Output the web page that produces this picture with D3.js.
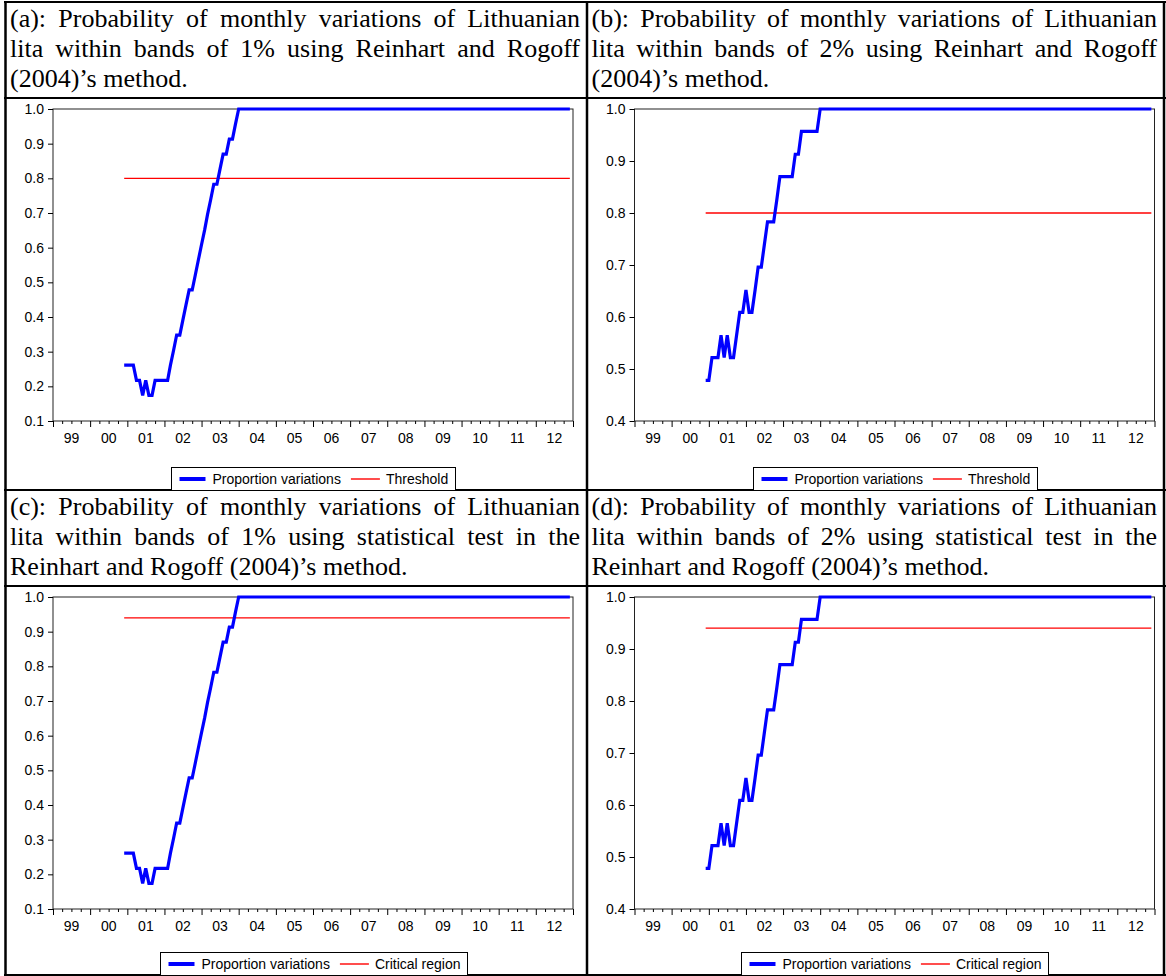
<!DOCTYPE html>
<html>
<head>
<meta charset="utf-8">
<script src="https://cdnjs.cloudflare.com/ajax/libs/d3/7.8.5/d3.min.js"></script>
<style>
  body { margin: 0; background: #fff; }
  svg { display: block; }
</style>
</head>
<body>
<svg id="chart" width="1166" height="976"></svg>
<script>
// ---- Data -------------------------------------------------------------
// Monthly observations run from 2000M12 to 2012M12 (145 months).
const firstMonth = [2000, 11];   // year, zero-based month
const lastMonth  = [2012, 11];

// Share of monthly variations of the lita inside a ±1% band
const band1Share = [
  0.261, 0.261, 0.261, 0.261, 0.217, 0.217, 0.174, 0.217, 0.174, 0.174, 0.217, 0.217,
  0.217, 0.217, 0.217, 0.261, 0.304, 0.348, 0.348, 0.391, 0.435, 0.478, 0.478, 0.522,
  0.565, 0.609, 0.652, 0.696, 0.739, 0.783, 0.783, 0.826, 0.870, 0.870, 0.913, 0.913,
  0.957, 1, 1, 1, 1, 1, 1, 1, 1, 1, 1, 1,
  1, 1, 1, 1, 1, 1, 1, 1, 1, 1, 1, 1,
  1, 1, 1, 1, 1, 1, 1, 1, 1, 1, 1, 1,
  1, 1, 1, 1, 1, 1, 1, 1, 1, 1, 1, 1,
  1, 1, 1, 1, 1, 1, 1, 1, 1, 1, 1, 1,
  1, 1, 1, 1, 1, 1, 1, 1, 1, 1, 1, 1,
  1, 1, 1, 1, 1, 1, 1, 1, 1, 1, 1, 1,
  1, 1, 1, 1, 1, 1, 1, 1, 1, 1, 1, 1,
  1, 1, 1, 1, 1, 1, 1, 1, 1, 1, 1, 1,
  1
];

// Share of monthly variations of the lita inside a ±2% band
const band2Share = [
  0.478, 0.478, 0.522, 0.522, 0.522, 0.565, 0.522, 0.565, 0.522, 0.522, 0.565, 0.609,
  0.609, 0.652, 0.609, 0.609, 0.652, 0.696, 0.696, 0.739, 0.783, 0.783, 0.783, 0.826,
  0.870, 0.870, 0.870, 0.870, 0.870, 0.913, 0.913, 0.957, 0.957, 0.957, 0.957, 0.957,
  0.957, 1, 1, 1, 1, 1, 1, 1, 1, 1, 1, 1,
  1, 1, 1, 1, 1, 1, 1, 1, 1, 1, 1, 1,
  1, 1, 1, 1, 1, 1, 1, 1, 1, 1, 1, 1,
  1, 1, 1, 1, 1, 1, 1, 1, 1, 1, 1, 1,
  1, 1, 1, 1, 1, 1, 1, 1, 1, 1, 1, 1,
  1, 1, 1, 1, 1, 1, 1, 1, 1, 1, 1, 1,
  1, 1, 1, 1, 1, 1, 1, 1, 1, 1, 1, 1,
  1, 1, 1, 1, 1, 1, 1, 1, 1, 1, 1, 1,
  1, 1, 1, 1, 1, 1, 1, 1, 1, 1, 1, 1,
  1
];

const thresholdLevel = 0.8;   // Reinhart–Rogoff 80% rule
const criticalLevel  = 0.94;  // critical region of the statistical test

const yearLabels = ["99", "00", "01", "02", "03", "04", "05", "06", "07", "08", "09", "10", "11", "12"];
const yTicksBand1 = [0.1, 0.2, 0.3, 0.4, 0.5, 0.6, 0.7, 0.8, 0.9, 1.0];
const yTicksBand2 = [0.4, 0.5, 0.6, 0.7, 0.8, 0.9, 1.0];

const titleA = ["(a): Probability of monthly variations of Lithuanian",
                "lita within bands of 1% using Reinhart and Rogoff",
                "(2004)\u2019s method."];
const titleB = ["(b): Probability of monthly variations of Lithuanian",
                "lita within bands of 2% using Reinhart and Rogoff",
                "(2004)\u2019s method."];
const titleC = ["(c): Probability of monthly variations of Lithuanian",
                "lita within bands of 1% using statistical test in the",
                "Reinhart and Rogoff (2004)\u2019s method."];
const titleD = ["(d): Probability of monthly variations of Lithuanian",
                "lita within bands of 2% using statistical test in the",
                "Reinhart and Rogoff (2004)\u2019s method."];

const seriesLabel = "Proportion variations";

// ---- Layout -----------------------------------------------------------
const svg = d3.select("#chart");
const serif = "'Liberation Serif','Times New Roman',Times,serif";
const sans  = "'Liberation Sans',Arial,Helvetica,sans-serif";

const colLeft  = [5.5, 587];
const colRight = [587, 1164];
const titleTop   = [2, 490];
const chartTop   = [98, 586];
const chartBot   = [490, 975];

const plotW = 520, plotH = 312;

const months = d3.utcMonth.range(
  new Date(Date.UTC(firstMonth[0], firstMonth[1], 1)),
  new Date(Date.UTC(lastMonth[0], lastMonth[1] + 1, 1)));

const panels = [
  { col: 0, row: 0, title: titleA, values: band1Share, yTicks: yTicksBand1, level: thresholdLevel, levelLabel: "Threshold" },
  { col: 1, row: 0, title: titleB, values: band2Share, yTicks: yTicksBand2, level: thresholdLevel, levelLabel: "Threshold" },
  { col: 0, row: 1, title: titleC, values: band1Share, yTicks: yTicksBand1, level: criticalLevel,  levelLabel: "Critical region" },
  { col: 1, row: 1, title: titleD, values: band2Share, yTicks: yTicksBand2, level: criticalLevel,  levelLabel: "Critical region" }
];

// text measuring helper
const probe = svg.append("text").attr("visibility", "hidden");
function textWidth(str, family, size) {
  probe.attr("font-family", family).attr("font-size", size).text(str);
  return probe.node().getComputedTextLength();
}

// ---- Table frame -------------------------------------------------------
const frame = svg.append("g").attr("stroke", "#000").attr("fill", "none");
[5.5, 587, 1164].forEach(xv => {
  frame.append("line").attr("x1", xv).attr("x2", xv).attr("y1", 1).attr("y2", 976).attr("stroke-width", 2.5);
});
[2, 98, 490, 586, 975].forEach(yv => {
  frame.append("line").attr("x1", 4).attr("x2", 1166).attr("y1", yv).attr("y2", yv).attr("stroke-width", 2);
});

// ---- Panels ------------------------------------------------------------
panels.forEach(p => {
  const cx0 = colLeft[p.col], cx1 = colRight[p.col];

  // Title, justified like a table cell paragraph
  const tx0 = cx0 + 4.5, tx1 = cx1 - 7;
  const tg = svg.append("g").attr("font-family", serif).attr("font-size", 26).attr("fill", "#000");
  p.title.forEach((line, i) => {
    const yb = titleTop[p.row] + 25 + i * 30;
    const words = line.split(" ");
    if (i === p.title.length - 1) {
      tg.append("text").attr("x", tx0).attr("y", yb).text(line);
    } else {
      const widths = words.map(w => textWidth(w, serif, 26));
      const gap = (tx1 - tx0 - d3.sum(widths)) / (words.length - 1);
      let xc = tx0;
      words.forEach((w, k) => {
        tg.append("text").attr("x", xc).attr("y", yb).text(w);
        xc += widths[k] + gap;
      });
    }
  });

  // Plot area
  const left = cx0 + 47.5;
  const top = chartTop[p.row] + 11;
  const x = d3.scaleUtc()
    .domain([new Date(Date.UTC(1999, 0, 1)), new Date(Date.UTC(2013, 0, 1))])
    .range([left, left + plotW]);
  const y = d3.scaleLinear()
    .domain([p.yTicks[0], p.yTicks[p.yTicks.length - 1]])
    .range([top + plotH, top]);

  const g = svg.append("g");

  // box around the plot
  g.append("rect")
    .attr("x", left).attr("y", top).attr("width", plotW).attr("height", plotH)
    .attr("fill", "none").attr("stroke", "#222").attr("stroke-width", 1);

  // y axis
  const yAxis = g.append("g").attr("transform", `translate(${left},0)`)
    .call(d3.axisLeft(y).tickValues(p.yTicks).tickSize(5).tickPadding(4).tickFormat(d3.format(".1f")));
  yAxis.select(".domain").remove();
  yAxis.selectAll("line").attr("stroke", "#000");
  yAxis.selectAll("text").attr("font-family", sans).attr("font-size", 14).attr("fill", "#000");

  // x axis: yearly major ticks, quarterly minor ticks
  const years = d3.utcYear.range(new Date(Date.UTC(1999, 0, 1)), new Date(Date.UTC(2014, 0, 1)));
  const quarters = d3.utcMonth.every(3).range(new Date(Date.UTC(1999, 0, 1)), new Date(Date.UTC(2013, 0, 1)))
    .filter(d => d.getUTCMonth() !== 0);
  const xMinor = g.append("g").attr("transform", `translate(0,${top + plotH})`)
    .call(d3.axisBottom(x).tickValues(quarters).tickSize(3).tickFormat(""));
  xMinor.select(".domain").remove();
  const xMajor = g.append("g").attr("transform", `translate(0,${top + plotH})`)
    .call(d3.axisBottom(x).tickValues(years).tickSize(6).tickFormat(""));
  xMajor.select(".domain").remove();
  g.selectAll(".tick line").attr("stroke", "#000");

  // year labels centred between year ticks
  g.append("g").selectAll("text")
    .data(yearLabels)
    .join("text")
    .attr("x", (d, i) => (x(years[i]) + x(years[i + 1])) / 2)
    .attr("y", top + plotH + 22)
    .attr("text-anchor", "middle")
    .attr("font-family", sans).attr("font-size", 14).attr("fill", "#000")
    .text(d => d);

  // reference level
  g.append("line")
    .attr("x1", x(months[0])).attr("x2", x(months[months.length - 1]))
    .attr("y1", y(p.level)).attr("y2", y(p.level))
    .attr("stroke", "#ff0000").attr("stroke-width", 1.3);

  // proportion series
  const line = d3.line().x((d, i) => x(months[i])).y(d => y(d));
  g.append("path")
    .datum(p.values)
    .attr("d", line)
    .attr("fill", "none")
    .attr("stroke", "#0000ff")
    .attr("stroke-width", 3.2)
    .attr("stroke-linejoin", "miter");

  // legend
  const tw1 = textWidth(seriesLabel, sans, 14);
  const tw2 = textWidth(p.levelLabel, sans, 14);
  const lw = 8 + 26 + 7 + tw1 + 10 + 29 + 6 + tw2 + 7;
  const lx = Math.round(left + plotW / 2 - lw / 2) + 0.5;
  const lh = 23;
  const ly = chartBot[p.row] - lh + 0.5;
  const lg = g.append("g");
  lg.append("rect").attr("x", lx).attr("y", ly).attr("width", Math.round(lw)).attr("height", lh)
    .attr("fill", "#fff").attr("stroke", "#000").attr("stroke-width", 1);
  const cy = Math.round(ly + lh / 2);
  let px = lx + 8;
  lg.append("line").attr("x1", px).attr("x2", px + 26).attr("y1", cy).attr("y2", cy)
    .attr("stroke", "#0000ff").attr("stroke-width", 4);
  px += 26 + 7;
  lg.append("text").attr("x", px).attr("y", cy + 5).attr("font-family", sans).attr("font-size", 14)
    .attr("fill", "#000").text(seriesLabel);
  px += tw1 + 10;
  lg.append("line").attr("x1", px).attr("x2", px + 29).attr("y1", cy).attr("y2", cy)
    .attr("stroke", "#ff0000").attr("stroke-width", 1.4);
  px += 29 + 6;
  lg.append("text").attr("x", px).attr("y", cy + 5).attr("font-family", sans).attr("font-size", 14)
    .attr("fill", "#000").text(p.levelLabel);
});

probe.remove();
</script>
</body>
</html>
